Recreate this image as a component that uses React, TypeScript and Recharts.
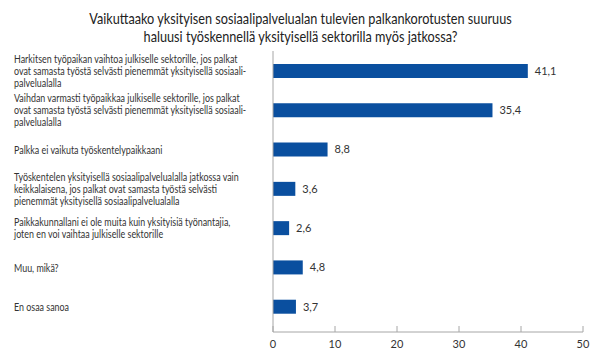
import { BarChart, Bar, XAxis, YAxis, LabelList } from "recharts";

const categories = [
  "Harkitsen työpaikan vaihtoa julkiselle sektorille, jos palkat\novat samasta työstä selvästi pienemmät yksityisellä sosiaali-\npalvelualalla",
  "Vaihdan varmasti työpaikkaa julkiselle sektorille, jos palkat\novat samasta työstä selvästi pienemmät yksityisellä sosiaali-\npalvelualalla",
  "Palkka ei vaikuta työskentelypaikkaani",
  "Työskentelen yksityisellä sosiaalipalvelualalla jatkossa vain\nkeikkalaisena, jos palkat ovat samasta työstä selvästi\npienemmät yksityisellä sosiaalipalvelualalla",
  "Paikkakunnallani ei ole muita kuin yksityisiä työnantajia,\njoten en voi vaihtaa julkiselle sektorille",
  "Muu, mikä?",
  "En osaa sanoa",
];
const shares = [41.1, 35.4, 8.8, 3.6, 2.6, 4.8, 3.7];
const xTicks = [0, 10, 20, 30, 40, 50];
const titleLines = [
  "Vaikuttaako yksityisen sosiaalipalvelualan tulevien palkankorotusten suuruus",
  "haluusi työskennellä yksityisellä sektorilla myös jatkossa?",
];

const data = categories.map((name, i) => ({ name, value: shares[i] }));

const FONT = "Lato, sans-serif";
const TEXT = "#333333";

const CategoryTick = (props: any) => {
  const { y, payload } = props;
  const lines = String(payload.value).split("\n");
  const lh = 12;
  const first = 4.5 - ((lines.length - 1) * lh) / 2;
  return (
    <g transform={`translate(14, ${y}) scale(0.81, 1)`}>
      <text x={0} y={0} fontFamily={FONT} fontSize={11} fill={TEXT}>
        {lines.map((ln, i) => (
          <tspan key={i} x={0} y={first + i * lh}>
            {ln}
          </tspan>
        ))}
      </text>
    </g>
  );
};

const fmt = (v: any) => String(v).replace(".", ",");

export default function App() {
  return (
    <div style={{ position: "absolute", left: 0, top: 0, width: 601, height: 361, background: "#fff" }}>
      <div
        style={{
          position: "absolute",
          top: 9,
          left: 0,
          width: 601,
          textAlign: "center",
          fontFamily: FONT,
          fontSize: 15,
          lineHeight: "18px",
          color: "#222",
        }}
      >
        {titleLines.map((t, i) => (
          <div key={i} style={{ transform: "scaleX(0.845)" }}>{t}</div>
        ))}
      </div>
      <BarChart
        width={601}
        height={361}
        data={data}
        layout="vertical"
        margin={{ top: 51, right: 18, bottom: 4, left: 0 }}
      >
        <XAxis
          type="number"
          domain={[0, 50]}
          ticks={xTicks}
          interval={0}
          height={25}
          tickSize={-6}
          tickMargin={14}
          stroke="#a6a6a6"
          tick={{ fill: TEXT, fontSize: 11, fontFamily: FONT }}
        />
        <YAxis
          type="category"
          dataKey="name"
          width={273}
          padding={{ top: 0, bottom: 6 }}
          stroke="#a6a6a6"
          tickLine={false}
          tick={<CategoryTick />}
          interval={0}
        />
        <Bar dataKey="value" fill="#0a4f9f" barSize={14} isAnimationActive={false}>
          <LabelList
            dataKey="value"
            position="right"
            offset={7}
            formatter={fmt}
            fill={TEXT}
            fontSize={11}
            fontFamily={FONT}
          />
        </Bar>
      </BarChart>
    </div>
  );
}
